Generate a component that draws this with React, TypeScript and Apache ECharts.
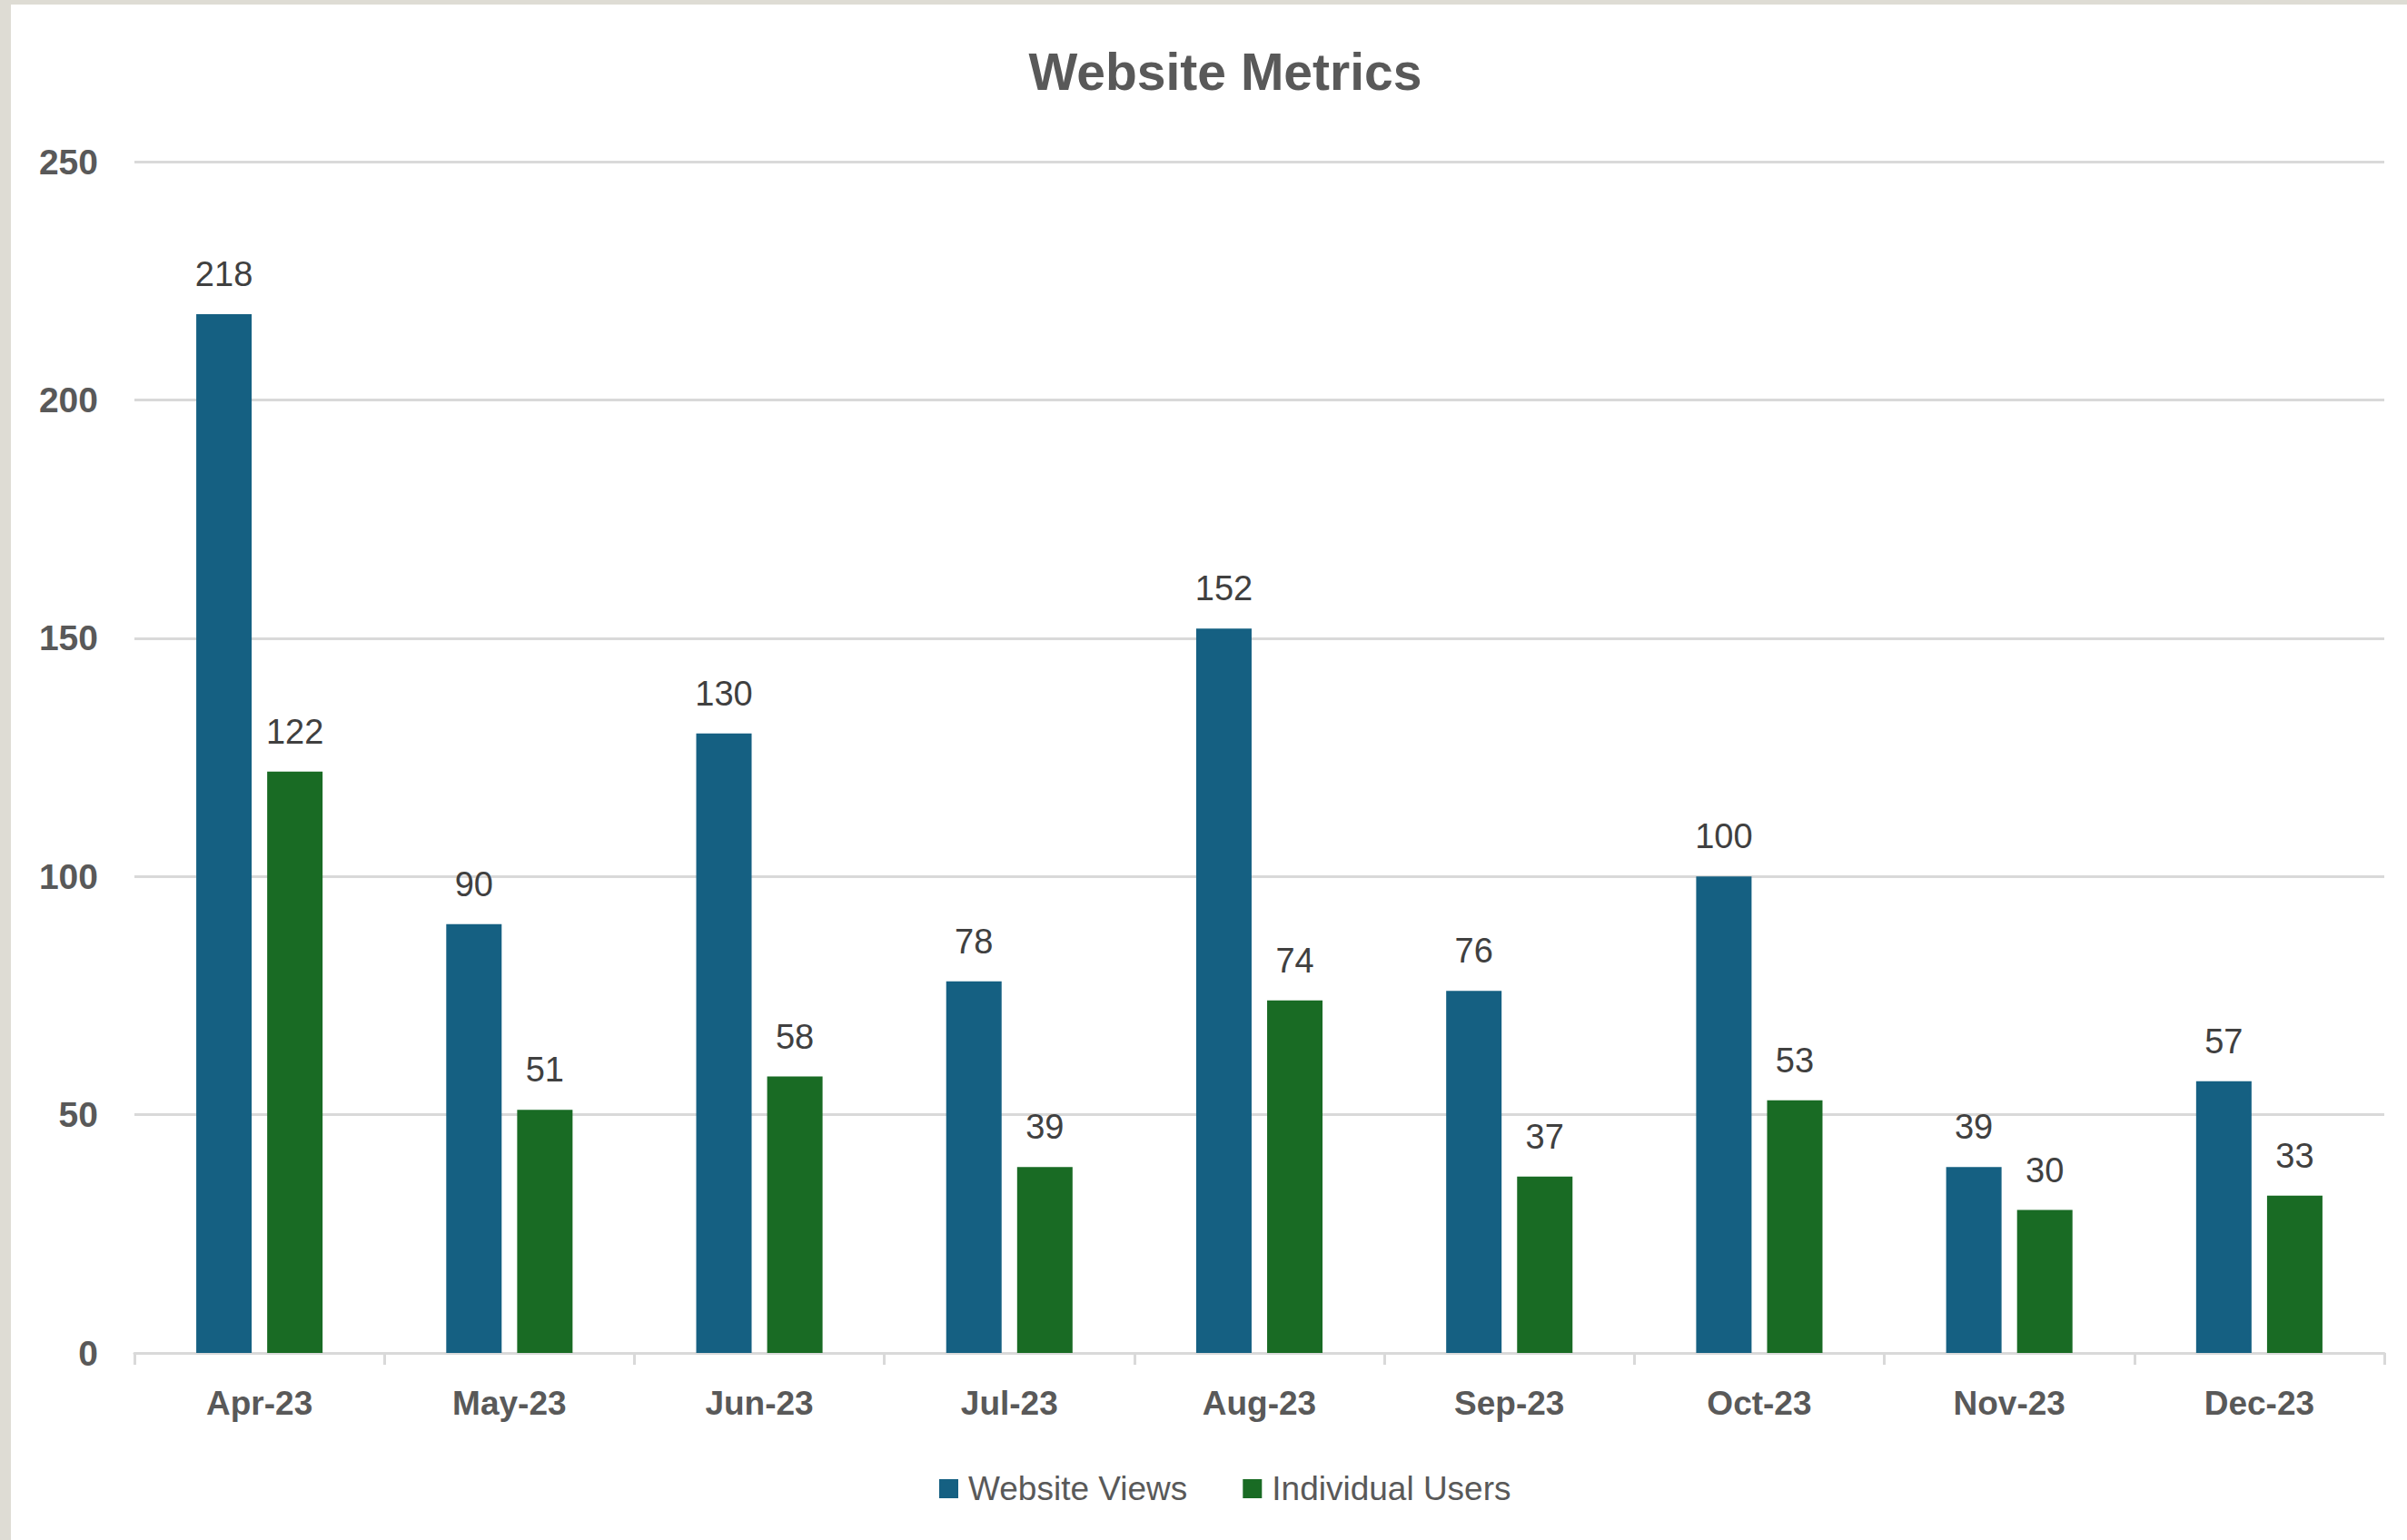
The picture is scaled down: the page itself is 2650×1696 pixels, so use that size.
import React, { useEffect, useRef } from "react";
import * as echarts from "echarts";

const categories = ["Apr-23", "May-23", "Jun-23", "Jul-23", "Aug-23", "Sep-23", "Oct-23", "Nov-23", "Dec-23"];
const websiteViews = [218, 90, 130, 78, 152, 76, 100, 39, 57];
const individualUsers = [122, 51, 58, 39, 74, 37, 53, 30, 33];
const seriesNames = ["Website Views", "Individual Users"];
const chartTitle = "Website Metrics";

const SANS = '"Liberation Sans", Arial, sans-serif';

export default function App() {
  const ref = useRef<HTMLDivElement>(null);
  useEffect(() => {
    document.body.style.margin = "0";
    const chart = echarts.init(ref.current!, null, { renderer: "svg" });
    const labelStyle = {
      show: true,
      position: "top",
      distance: 25,
      color: "#404040",
      fontFamily: SANS,
      fontSize: 38,
    };
    chart.setOption({
      animation: false,
      backgroundColor: "#ffffff",
      title: {
        text: chartTitle,
        left: 1344,
        top: 45,
        textAlign: "center",
        textStyle: { fontFamily: SANS, fontWeight: "bold", fontSize: 57, color: "#595959" },
      },
      graphic: [
        { type: "rect", left: 0, top: 0, shape: { width: 12, height: 1696 }, style: { fill: "#DEDCD4" }, z: 100 },
        { type: "rect", left: 0, top: 0, shape: { width: 2650, height: 5 }, style: { fill: "#DEDCD4" }, z: 100 },
      ],
      legend: {
        left: 1034,
        top: 1621,
        padding: 0,
        itemWidth: 21,
        itemHeight: 21,
        itemGap: 61,
        icon: "rect",
        textStyle: { fontFamily: SANS, fontSize: 37, color: "#595959", padding: [0, 0, 0, 6] },
        data: seriesNames,
      },
      grid: { left: 148, right: 25, top: 178, bottom: 206, containLabel: false },
      xAxis: {
        type: "category",
        data: categories,
        axisLine: { show: true, lineStyle: { color: "#D9D9D9", width: 3 } },
        axisTick: { show: true, length: 13, lineStyle: { color: "#D9D9D9", width: 3 } },
        axisLabel: { margin: 37, fontFamily: SANS, fontWeight: "bold", fontSize: 37, color: "#595959" },
      },
      yAxis: {
        type: "value",
        min: 0,
        max: 250,
        interval: 50,
        axisLine: { show: false },
        axisTick: { show: false },
        splitLine: { lineStyle: { color: "#D9D9D9", width: 3 } },
        axisLabel: { margin: 40, fontFamily: SANS, fontWeight: "bold", fontSize: 39, color: "#595959" },
      },
      series: [
        {
          name: seriesNames[0],
          type: "bar",
          data: websiteViews,
          barWidth: 61,
          barGap: "28%",
          itemStyle: { color: "#156082" },
          label: labelStyle,
        },
        {
          name: seriesNames[1],
          type: "bar",
          data: individualUsers,
          barWidth: 61,
          itemStyle: { color: "#196B24" },
          label: labelStyle,
        },
      ],
    });
    return () => chart.dispose();
  }, []);
  return <div ref={ref} style={{ position: "absolute", left: 0, top: 0, width: 2650, height: 1696 }} />;
}
